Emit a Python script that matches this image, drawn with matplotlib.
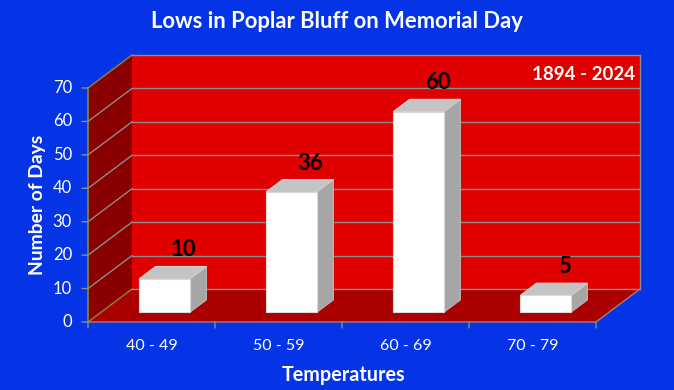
import matplotlib
matplotlib.use("Agg")
import matplotlib.pyplot as plt
from matplotlib.patches import Polygon
from matplotlib.transforms import offset_copy

categories = ["40 - 49", "50 - 59", "60 - 69", "70 - 79"]
values = [10, 36, 60, 5]
yticks = [0, 10, 20, 30, 40, 50, 60, 70]
title = "Lows in Poplar Bluff on Memorial Day"
subtitle = "1894 - 2024"
xlabel = "Temperatures"
ylabel = "Number of Days"

BLUE = "#0533E6"
FONT = ["Lato", "DejaVu Sans"]

W, H = 674, 390
fig = plt.figure(figsize=(W / 100, H / 100), dpi=100, facecolor=BLUE)
ax = fig.add_axes([0, 0, 1, 1])
ax.set_facecolor(BLUE)
ax.axis("off")

# pixel geometry of front plane
x0px, catpx = 88.0, 127.0
y0px, vpx = 322.0, 234.0 / 70.0
ax.set_xlim(-x0px / catpx, (W - x0px) / catpx)
ax.set_ylim((y0px - H) / vpx, y0px / vpx)

DX = 44.0 / catpx
DY = 33.0 / vpx
ncat = len(categories)
ymax = yticks[-1]


def P(x, v, d):
    return (x + d * DX, v + d * DY)


# walls
side = Polygon([P(0, 0, 0), P(0, ymax, 0), P(0, ymax, 1), P(0, 0, 1)],
               closed=True, facecolor="#8A0000", edgecolor="none", zorder=1)
back = Polygon([P(0, 0, 1), P(ncat, 0, 1), P(ncat, ymax, 1), P(0, ymax, 1)],
               closed=True, facecolor="#E00000", edgecolor="none", zorder=1)
floor = Polygon([P(0, 0, 0), P(ncat, 0, 0), P(ncat, 0, 1), P(0, 0, 1)],
                closed=True, facecolor="#AA0000", edgecolor="none", zorder=1)
for p in (side, back, floor):
    ax.add_patch(p)

GRID = "#8C8C8C"
OLIVE = "#8A8A3A"
for v in yticks:
    a, b, c = P(0, v, 0), P(0, v, 1), P(ncat, v, 1)
    ax.plot([a[0], b[0]], [a[1], b[1]], color=OLIVE if v in (0, ymax) else GRID,
            lw=1, zorder=2)
    ax.plot([b[0], c[0]], [b[1], c[1]], color=GRID, lw=1, zorder=2)
# back wall right edge
a, b = P(ncat, 0, 1), P(ncat, ymax, 1)
ax.plot([a[0], b[0]], [a[1], b[1]], color=GRID, lw=1, zorder=2)
# floor edges
a, b, c = P(0, 0, 0), P(ncat, 0, 0), P(ncat, 0, 1)
ax.plot([a[0], b[0], c[0]], [a[1], b[1], c[1]], color="#A08070", lw=1, zorder=2)
# front vertical axis
a, b = P(0, 0, 0), P(0, ymax, 0)
ax.plot([a[0], b[0]], [a[1], b[1]], color=OLIVE, lw=1.2, zorder=3)

# y ticks and labels
for v in yticks:
    a = P(0, v, 0)
    ax.annotate("", xy=a, xytext=(-6, 0), textcoords="offset pixels",
                arrowprops=dict(arrowstyle="-", color=GRID, lw=1, shrinkA=0, shrinkB=0))
    ax.text(a[0], a[1], str(v), transform=offset_copy(ax.transData, fig=fig, x=-16, y=0, units="dots"),
            ha="right", va="center", color="white", fontsize=12, family=FONT)

# category ticks and labels
for k in range(ncat + 1):
    a = P(k, 0, 0)
    ax.annotate("", xy=a, xytext=(0, -6), textcoords="offset pixels",
                arrowprops=dict(arrowstyle="-", color=GRID, lw=1, shrinkA=0, shrinkB=0))
for i, cat in enumerate(categories):
    a = P(i + 0.5, 0, 0)
    ax.text(a[0], a[1], cat, transform=offset_copy(ax.transData, fig=fig, x=0, y=-24, units="dots"),
            ha="center", va="center", color="white", fontsize=11.5, family=FONT)

# bars
d0, d1 = 0.30, 0.67
hw = 0.2
for i, v in enumerate(values):
    c = i + 0.5
    front = [P(c - hw, 0, d0), P(c + hw, 0, d0), P(c + hw, v, d0), P(c - hw, v, d0)]
    top = [P(c - hw, v, d0), P(c + hw, v, d0), P(c + hw, v, d1), P(c - hw, v, d1)]
    rside = [P(c + hw, 0, d0), P(c + hw, 0, d1), P(c + hw, v, d1), P(c + hw, v, d0)]
    ax.add_patch(Polygon(rside, closed=True, facecolor="#A6A6A6", edgecolor="#B8B8B8", lw=0.8, zorder=5))
    ax.add_patch(Polygon(top, closed=True, facecolor="#C4C4C4", edgecolor="#D0D0D0", lw=0.8, zorder=5))
    ax.add_patch(Polygon(front, closed=True, facecolor="white", edgecolor="#D9D9D9", lw=0.8, zorder=6))
    lp = P(c, v, d1)
    ax.text(lp[0] + 0.02, lp[1], str(v), transform=offset_copy(ax.transData, fig=fig, x=0, y=10, units="dots"),
            ha="center", va="baseline", color="black", fontsize=16, fontweight="bold", family=FONT, zorder=7)

# texts
fig.text(337 / W, 1 - 22 / H, title, ha="center", va="center", color="white",
         fontsize=15.8, fontweight="bold", family=FONT)
fig.text(635 / W, 1 - 75 / H, subtitle, ha="right", va="center", color="white",
         fontsize=13.5, fontweight="bold", family=FONT)
fig.text(344 / W, 1 - 375 / H, xlabel, ha="center", va="center", color="white",
         fontsize=14.2, fontweight="bold", family=FONT)
fig.text(37 / W, 1 - 205 / H, ylabel, ha="center", va="center", color="white",
         fontsize=13.9, fontweight="bold", family=FONT, rotation=90)

fig.savefig("out.png", dpi=100, facecolor=BLUE)
